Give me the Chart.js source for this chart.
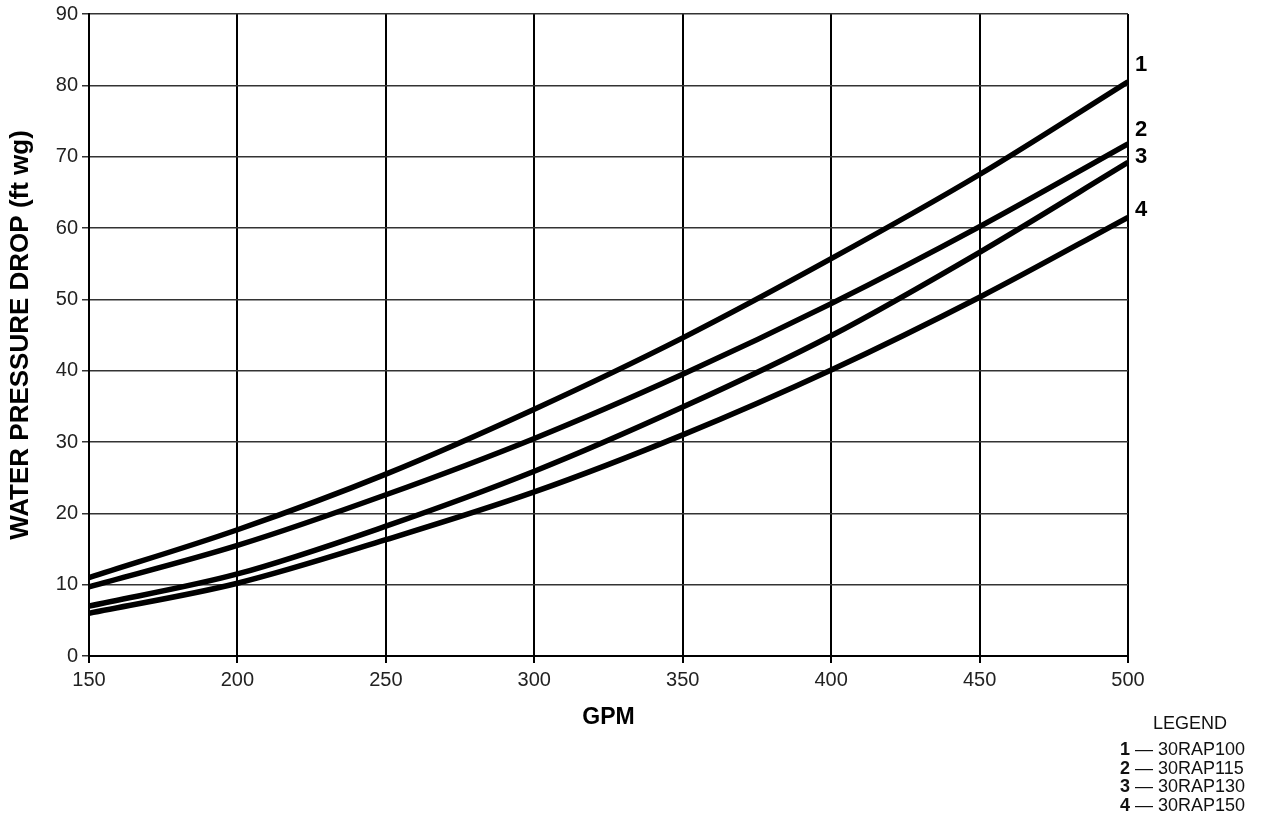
<!DOCTYPE html>
<html>
<head>
<meta charset="utf-8">
<script src="https://cdn.jsdelivr.net/npm/chart.js@4/dist/chart.umd.min.js"></script>
<style>
  html, body { margin: 0; padding: 0; background: #fff; }
  #wrap { position: relative; width: 1261px; height: 814px; }
  #legend {
    position: absolute; left: 1120px; top: 714px; width: 141px;
    font-family: "Liberation Sans", Arial, sans-serif; font-size: 18px;
    color: #111;
  }
  #legend .head { text-align: center; width: 140px; line-height: 19px; margin-bottom: 7px; }
  #legend .item { line-height: 18.7px; white-space: nowrap; }
  #legend b { font-weight: bold; }
</style>
</head>
<body>
<div id="wrap">
  <canvas id="wpdChart" width="1261" height="814"></canvas>
  <div id="legend"></div>
</div>
<script>
// GPM values
const gpm = [150, 200, 250, 300, 350, 400, 450, 500];

// Water pressure drop (ft wg) per unit
const p100 = [11.0, 17.7, 25.5, 34.6, 44.6, 55.7, 67.5, 80.5];
const p115 = [9.7, 15.5, 22.6, 30.5, 39.5, 49.4, 60.2, 71.8];
const p130 = [7.0, 11.5, 18.2, 25.9, 34.9, 44.9, 56.6, 69.2];
const p150 = [6.0, 10.2, 16.3, 23.0, 31.0, 40.1, 50.3, 61.5];

const curveNumbers = ['1', '2', '3', '4'];
const unitNames = ['30RAP100', '30RAP115', '30RAP130', '30RAP150'];

const FONT = '"Liberation Sans", Arial, Helvetica, sans-serif';

function toPoints(ys) {
    return gpm.map((x, i) => ({ x: x, y: ys[i] }));
}

// legend below the chart
document.getElementById('legend').innerHTML =
    '<div class="head">LEGEND</div>' +
    curveNumbers.map((n, i) => `<div class="item"><b>${n}</b> — ${unitNames[i]}</div>`).join('');

// numbers at the right end of every curve
const curveLabels = {
    id: 'curveLabels',
    afterDatasetsDraw(chart, args, opts) {
        const ctx = chart.ctx;
        const y = chart.scales.y;
        ctx.save();
        ctx.font = 'bold 22px ' + FONT;
        ctx.fillStyle = '#000';
        ctx.textAlign = 'left';
        ctx.textBaseline = 'middle';
        opts.at.forEach((v, i) => {
            ctx.fillText(curveNumbers[i], chart.chartArea.right + 7, y.getPixelForValue(v));
        });
        ctx.restore();
    }
};

const series = [p100, p115, p130, p150];

new Chart(document.getElementById('wpdChart'), {
    type: 'line',
    data: {
        datasets: series.map((s, i) => ({
            label: unitNames[i],
            data: toPoints(s),
            borderColor: '#000',
            borderWidth: 5.5,
            pointRadius: 0,
            fill: false,
            cubicInterpolationMode: 'monotone'
        }))
    },
    plugins: [curveLabels],
    options: {
        responsive: false,
        animation: false,
        layout: { padding: { left: 0, right: 133, top: 12, bottom: 83 } },
        plugins: {
            legend: { display: false },
            tooltip: { enabled: false },
            curveLabels: { at: [82.9, 73.8, 70.0, 62.6] }
        },
        scales: {
            x: {
                type: 'linear',
                min: 150,
                max: 500,
                ticks: {
                    stepSize: 50,
                    color: '#222',
                    font: { family: FONT, size: 20 },
                    padding: 5
                },
                grid: { color: '#000', lineWidth: 2, tickLength: 7 },
                border: { color: '#000', width: 2 },
                title: {
                    display: true,
                    text: 'GPM',
                    color: '#000',
                    font: { family: FONT, size: 23, weight: 'bold' },
                    padding: 0
                },
                afterFit(scale) { scale.height = 75; }
            },
            y: {
                min: 0,
                max: 90,
                ticks: {
                    stepSize: 10,
                    color: '#222',
                    font: { family: FONT, size: 20, lineHeight: 1 },
                    padding: 4
                },
                grid: { color: '#333', lineWidth: 1.5, tickLength: 7 },
                border: { color: '#000', width: 2 },
                title: {
                    display: true,
                    text: 'WATER PRESSURE DROP (ft wg)',
                    color: '#000',
                    font: { family: FONT, size: 26, weight: 'bold' },
                    padding: { top: 5, bottom: 0 }
                },
                afterFit(scale) { scale.width = 89; }
            }
        }
    }
});
</script>
</body>
</html>
